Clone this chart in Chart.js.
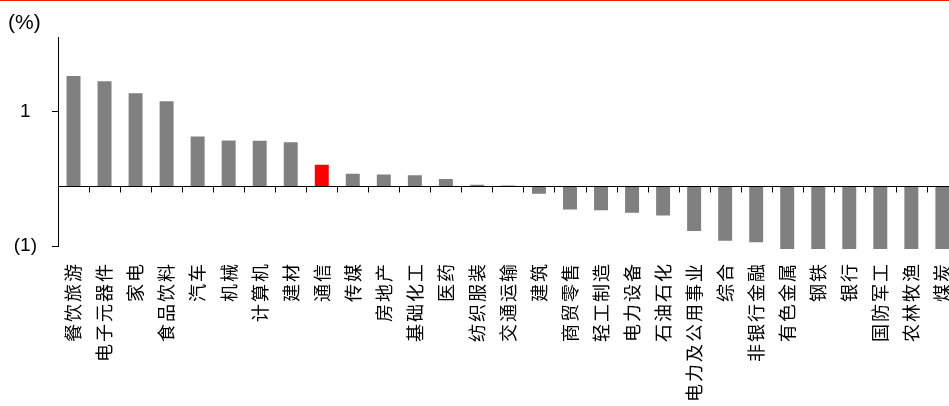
<!DOCTYPE html>
<html>
<head>
<meta charset="utf-8">
<script src="https://cdn.jsdelivr.net/npm/chart.js@4.4.0/dist/chart.umd.min.js"></script>
<style>
  html, body { margin: 0; padding: 0; background: #fff; overflow: hidden; }
  body { width: 949px; height: 406px; border-top: 1px solid #f01e00; box-sizing: border-box; }
  #wrap { position: relative; width: 972px; height: 405px; }
</style>
</head>
<body>
<div id="wrap"><canvas id="chart"></canvas></div>
<script>
// industry return, %
const categories = ['餐饮旅游', '电子元器件', '家电', '食品饮料', '汽车', '机械', '计算机', '建材', '通信', '传媒',
  '房地产', '基础化工', '医药', '纺织服装', '交通运输', '建筑', '商贸零售', '轻工制造', '电力设备', '石油石化',
  '电力及公用事业', '综合', '非银行金融', '有色金属', '钢铁', '银行', '国防军工', '农林牧渔', '煤炭'];
const values = [1.48, 1.41, 1.25, 1.14, 0.67, 0.615, 0.61, 0.59, 0.29, 0.17,
  0.16, 0.15, 0.10, 0.02, 0.01, -0.10, -0.31, -0.32, -0.355, -0.39,
  -0.60, -0.73, -0.75, -0.95, -1.0, -1.1, -1.2, -1.3, -1.5];
const highlightCategory = '通信';
const yTickValues = [-0.8, 1];
const yTickLabels = ['(1)', '1'];

const barColors = categories.map(c => c === highlightCategory ? '#ff0000' : '#808080');

// zero line with category tick marks
const zeroAxis = {
  id: 'zeroAxis',
  afterDatasetsDraw(chart) {
    const { ctx, chartArea, scales: { x, y } } = chart;
    const y0 = Math.round(y.getPixelForValue(0)) + 0.5;
    const step = x.width / categories.length;
    ctx.save();
    ctx.strokeStyle = '#000';
    ctx.lineWidth = 1;
    ctx.beginPath();
    ctx.moveTo(chartArea.left, y0);
    ctx.lineTo(chartArea.right, y0);
    for (let i = 0; i < categories.length; i++) {
      const xb = Math.round(x.getPixelForValue(i) + step / 2) + 0.5;
      ctx.moveTo(xb, y0);
      ctx.lineTo(xb, y0 + 6);
    }
    ctx.stroke();
    ctx.restore();
  }
};

// spread out the vertical category labels a bit
const labelSpacing = {
  id: 'labelSpacing',
  afterUpdate(chart) {
    const x = chart.scales.x;
    if (x._spaced) return;
    const orig = x.drawLabels;
    x.drawLabels = function (area) {
      chart.ctx.save();
      chart.ctx.letterSpacing = '2px';
      orig.call(this, area);
      chart.ctx.restore();
    };
    x._spaced = true;
  }
};

new Chart(document.getElementById('chart'), {
  type: 'bar',
  data: {
    labels: categories,
    datasets: [{
      data: values,
      backgroundColor: barColors,
      borderWidth: 0,
      categoryPercentage: 1,
      barPercentage: 0.45,
      clip: { left: 0, top: 0, right: 0, bottom: 3 }
    }]
  },
  options: {
    responsive: true,
    maintainAspectRatio: false,
    animation: false,
    layout: { padding: { left: 8, right: 2, top: 0, bottom: 0 } },
    plugins: {
      legend: { display: false },
      tooltip: { enabled: false },
      title: {
        display: true,
        text: '(%)',
        align: 'start',
        color: '#000',
        font: { family: 'Arial, "Liberation Sans"', size: 21, weight: 'normal' },
        padding: { top: 10, bottom: 1 }
      }
    },
    scales: {
      x: {
        grid: { display: false },
        border: { display: false },
        ticks: {
          autoSkip: false,
          minRotation: 90,
          maxRotation: 90,
          padding: 8,
          color: '#000',
          font: { family: '"Noto Sans CJK SC"', size: 18 }
        },
        afterFit(s) { s.height = 160; }
      },
      y: {
        min: -0.8,
        max: 2.0,
        afterBuildTicks(s) { s.ticks = yTickValues.map(v => ({ value: v })); },
        grid: { drawOnChartArea: false, drawTicks: true, tickLength: 6, color: '#000' },
        border: { display: true, color: '#000', width: 1 },
        ticks: {
          crossAlign: 'center',
          padding: 15,
          color: '#000',
          font: { family: 'Arial, "Liberation Sans"', size: 19 },
          callback: (v, i) => yTickLabels[i]
        },
        afterFit(s) { s.width = 50; }
      }
    }
  },
  plugins: [zeroAxis, labelSpacing]
});
</script>
</body>
</html>
